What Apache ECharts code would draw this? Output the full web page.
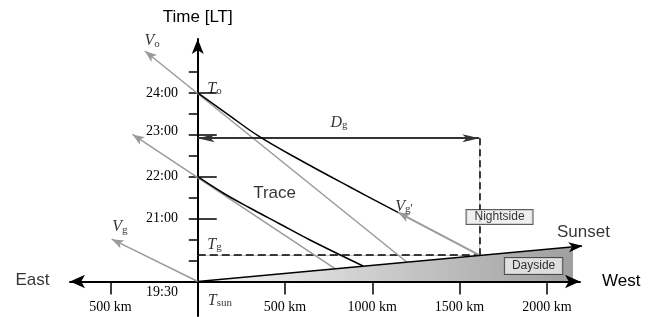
<!DOCTYPE html>
<html>
<head>
<meta charset="utf-8">
<script src="https://cdn.jsdelivr.net/npm/echarts@6/dist/echarts.min.js"></script>
<style>
  html, body { margin: 0; padding: 0; background: #fff; }
  #chart { width: 653px; height: 317px; }
</style>
</head>
<body>
<div id="chart"></div>
<script>
// local time of sunset at the station, the x axis sits on it
const T_SUN = 19.5;

// tick marks
const X_TICKS = [-500, 500, 1000, 1500, 2000];
const Y_TICKS = [20, 20.5, 21, 21.5, 22, 22.5, 23, 23.5, 24, 24.5];
const Y_LONG_TICKS = [21, 22, 23, 24];
const Y_LABELS = [19.5, 21, 22, 23, 24];

// [distance west (km), local time (h)]
const SUNSET_LINE = [[0, 19.5], [2205, 20.35]];
const DAYSIDE_EDGE = [[0, 19.5], [2150, 20.33]];
const TRACE_UPPER = [[0, 24.0], [178, 23.47], [356, 22.95], [586, 22.40], [872, 21.755], [1147, 21.15]];
const TRACE_LOWER = [[0, 22.0], [150, 21.60], [299, 21.254], [471, 20.872], [643, 20.49], [947, 19.87]];
const VO_LINE = [[1199, 19.96], [-303, 25.0]];
const V22_LINE = [[786, 19.81], [-374, 23.01]];
const VG_LINE = [[0, 19.5], [-493, 20.51]];
const VG2_LINE = [[1613, 20.13], [1147, 21.15]];
const DG_LINE = [[0, 22.92], [1613, 22.92]];
const TG_LINE = [[0, 20.13], [1613, 20.13]];
const DG_DROP = [[1613, 22.92], [1613, 20.13]];

// text annotations: [rich text, km, hour]
const ANNOTATIONS = [
  ['{i|V}{s|o}', -262, 25.26],
  ['{i|T}{s|o}', 96, 24.12],
  ['{i|D}{s|g}', 809, 23.32],
  ["{i|V}{s|g}{p|'}", 1182, 21.30],
  ['{t|Trace}', 440, 21.60],
  ['{i|T}{s|g}', 96, 20.41],
  ['{i|V}{s|g}', -446, 20.82],
  ['{i|T}{s|sun}', 127, 19.06],
  ['{n|Nightside}', 1729, 21.04],
  ['{d|Dayside}', 1924, 19.87],
  ['{t|Sunset}', 2210, 20.67],
  ['{t|East}', -947, 19.54]
];

const SANS = 'Liberation Sans';
const SERIF = 'Liberation Serif';
const GRAY = '#9a9a9a';

// arrow head whose tip is the symbol centre, so a line ends right at the tip
const ARROW = 'path://M5,0L5.01,0L5,20ZM5,20L10,40L5,35L0,40Z';

const toXY = p => [p[0], p[1] - T_SUN];

const fmtTime = v => {
  const h = v + T_SUN;
  const hh = Math.floor(h);
  const mm = Math.round((h - hh) * 60);
  return hh + ':' + (mm < 10 ? '0' + mm : mm);
};

const arrowLine = (pts, color, width, size, both) => ({
  type: 'lines',
  coordinateSystem: 'cartesian2d',
  silent: true,
  z: 3,
  symbol: [both ? ARROW : 'none', ARROW],
  symbolSize: [size, size],
  lineStyle: { color: color, width: width, opacity: 1, curveness: 0 },
  data: [{ coords: pts.map(toXY) }]
});

const plainLine = (pts, color, width, type, z) => ({
  type: 'lines',
  coordinateSystem: 'cartesian2d',
  silent: true,
  z: z,
  lineStyle: { color: color, width: width, type: type, opacity: 1, curveness: 0 },
  data: [{ coords: pts.map(toXY) }]
});

const traceLine = pts => ({
  type: 'line',
  silent: true,
  z: 4,
  smooth: 0.4,
  symbol: 'none',
  lineStyle: { color: '#000', width: 1.5 },
  data: pts.map(toXY)
});

const RICH = {
  i: { fontFamily: SERIF, fontStyle: 'italic', fontSize: 16, color: '#000', lineHeight: 18, verticalAlign: 'bottom' },
  s: { fontFamily: SERIF, fontSize: 11, color: '#000', lineHeight: 12, verticalAlign: 'bottom' },
  p: { fontFamily: SERIF, fontSize: 12, color: '#000', lineHeight: 18, verticalAlign: 'bottom' },
  t: { fontFamily: SANS, fontSize: 17, color: '#000' },
  n: { fontFamily: SANS, fontSize: 12, color: '#000', backgroundColor: '#ececec', borderColor: '#333', borderWidth: 1, padding: [1, 8, 1, 8] },
  d: { fontFamily: SANS, fontSize: 12, color: '#000', backgroundColor: '#ececec', borderColor: '#333', borderWidth: 1, padding: [2, 7, 2, 7] }
};

const chart = echarts.init(document.getElementById('chart'), null, { renderer: 'canvas' });

// labels stay on the grid edge even with onZero, so margins pull them back to the axes
const option = {
  animation: false,
  backgroundColor: '#fff',
  grid: { left: 70, right: 73, top: 39, bottom: 1, outerBoundsMode: 'none' },
  xAxis: {
    type: 'value',
    min: -732,
    max: 2190,
    name: 'West',
    nameLocation: 'end',
    nameGap: 22,
    nameTextStyle: { fontFamily: SANS, fontSize: 17, color: '#000' },
    axisLine: {
      onZero: true,
      symbol: ['arrow', 'arrow'],
      symbolSize: [10, 15],
      lineStyle: { color: '#000', width: 2 }
    },
    axisTick: { customValues: X_TICKS, length: 13, lineStyle: { color: '#000', width: 1.5 } },
    axisLabel: {
      customValues: X_TICKS,
      formatter: v => Math.abs(v) + ' km',
      fontFamily: SERIF,
      fontSize: 14,
      color: '#000',
      margin: -16
    },
    splitLine: { show: false }
  },
  yAxis: [
    {
      type: 'value',
      min: -0.823,
      max: 5.787,
      name: 'Time [LT]',
      nameLocation: 'end',
      nameGap: 13,
      nameTextStyle: { fontFamily: SANS, fontSize: 17, color: '#000' },
      axisLine: {
        onZero: true,
        symbol: ['none', 'arrow'],
        symbolSize: [9, 15],
        lineStyle: { color: '#000', width: 2 }
      },
      axisTick: { customValues: Y_TICKS.map(h => h - T_SUN), length: 9, lineStyle: { color: '#000', width: 1.5 } },
      axisLabel: {
        customValues: Y_LABELS.map(h => h - T_SUN),
        fontFamily: SERIF,
        fontSize: 14,
        color: '#000',
        margin: -108,
        formatter: v => {
          const s = fmtTime(v);
          if (v === 0) return '{low|' + s + '}';
          if (v === 3.5) return '{up|' + s + '}';
          return s;
        },
        rich: {
          low: { fontFamily: SERIF, fontSize: 14, color: '#000', padding: [21, 0, 0, 0] },
          up: { fontFamily: SERIF, fontSize: 14, color: '#000', padding: [0, 0, 8, 0] }
        }
      },
      splitLine: { show: false }
    },
    {
      type: 'value',
      min: -0.823,
      max: 5.787,
      axisLine: { show: false, onZero: true, onZeroAxisIndex: 0 },
      axisTick: { customValues: Y_LONG_TICKS.map(h => h - T_SUN), length: 19, lineStyle: { color: '#000', width: 1.5 } },
      axisLabel: { show: false },
      splitLine: { show: false }
    }
  ],
  series: [
    {
      type: 'line',
      silent: true,
      z: -1,
      symbol: 'none',
      lineStyle: { width: 0 },
      areaStyle: {
        opacity: 1,
        color: new echarts.graphic.LinearGradient(0, 0, 1, 0, [
          { offset: 0, color: '#f6f6f6' },
          { offset: 1, color: '#9f9f9f' }
        ])
      },
      data: DAYSIDE_EDGE.map(toXY)
    },
    plainLine(TG_LINE, '#bbb', 0.8, 'solid', 2),
    plainLine(DG_DROP, '#bbb', 0.8, 'solid', 2),
    plainLine(TG_LINE, '#000', 1.5, [8, 4], 2),
    plainLine(DG_DROP, '#000', 1.5, [7, 4], 2),
    arrowLine(VO_LINE, GRAY, 1.5, [9, 24]),
    arrowLine(V22_LINE, GRAY, 1.5, [9, 24]),
    arrowLine(VG_LINE, GRAY, 1.5, [9, 24]),
    arrowLine(VG2_LINE, GRAY, 2, [9, 24]),
    traceLine(TRACE_UPPER),
    traceLine(TRACE_LOWER),
    arrowLine(SUNSET_LINE, '#000', 1.5, [10, 28]),
    arrowLine(DG_LINE, '#333', 2, [8, 34], true),
    {
      type: 'scatter',
      silent: true,
      clip: false,
      z: 6,
      symbolSize: 0,
      label: { show: true, position: 'inside', formatter: '{b}', rich: RICH },
      data: ANNOTATIONS.map(a => ({ name: a[0], value: toXY([a[1], a[2]]) }))
    }
  ]
};

chart.setOption(option);
</script>
</body>
</html>
